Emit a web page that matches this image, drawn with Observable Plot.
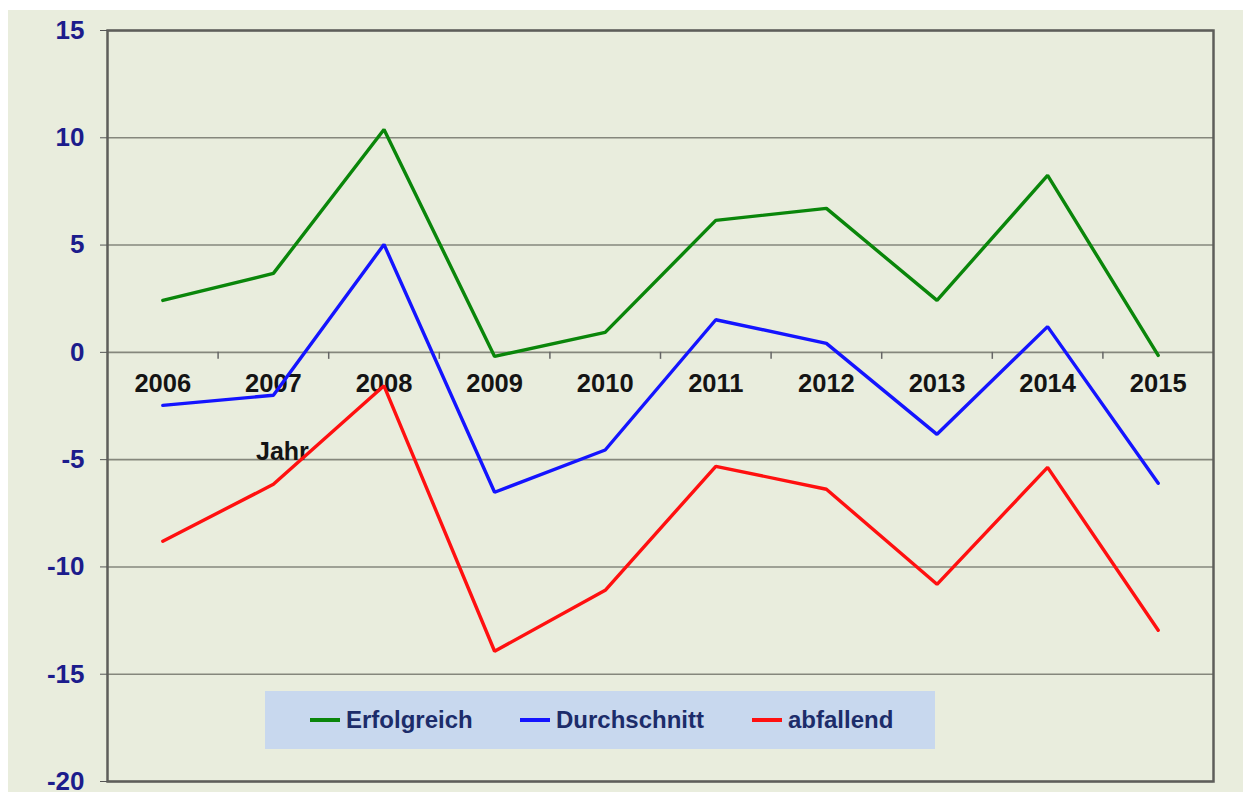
<!DOCTYPE html>
<html>
<head>
<meta charset="utf-8">
<script src="https://cdn.jsdelivr.net/npm/d3@7"></script>
<script src="https://cdn.jsdelivr.net/npm/@observablehq/plot@0.6"></script>
<style>
  html, body { margin: 0; padding: 0; background: #ffffff; }
  #wrap { position: absolute; left: 8px; top: 10px; width: 1235px; height: 782px; background: #e9eddd; overflow: hidden; }
  #chart svg { display: block; background: transparent; }
  .chart g[aria-label="y-axis tick label"] { fill: #1c1c8c; }
  .chart g[aria-label="y-axis tick"] { stroke: #555; }
  #legend { position: absolute; left: 257px; top: 681px; width: 670px; height: 58px; background: #c8d8ee;
            font-family: "Liberation Sans", Arial, sans-serif; font-weight: bold; font-size: 24px; color: #1c2c6a; }
  .item { position: absolute; top: 0; height: 58px; display: flex; align-items: center; }
  .sw { display: inline-block; width: 30px; height: 3.5px; margin-right: 6px; }
</style>
</head>
<body>
<div id="wrap">
  <div id="chart"></div>
  <div id="legend"></div>
</div>
<script>
const years = [2006, 2007, 2008, 2009, 2010, 2011, 2012, 2013, 2014, 2015];
const erfolgreich  = [2.42, 3.68, 10.39, -0.19, 0.93, 6.15, 6.71, 2.42, 8.25, -0.14];
const durchschnitt = [-2.47, -2.0, 5.03, -6.52, -4.55, 1.52, 0.42, -3.82, 1.2, -6.1];
const abfallend    = [-8.8, -6.15, -1.56, -13.93, -11.09, -5.31, -6.38, -10.81, -5.36, -12.95];
const seriesNames  = ["Erfolgreich", "Durchschnitt", "abfallend"];
const seriesColors = ["#0a860a", "#1414ff", "#ff1010"];
const yTicks = [-20, -15, -10, -5, 0, 5, 10, 15];
const xAxisTitle = "Jahr";

const seriesValues = [erfolgreich, durchschnitt, abfallend];
const data = seriesNames.flatMap((s, si) => years.map((yr, i) => ({series: s, year: yr, value: seriesValues[si][i]})));
const boundaries = years.slice(0, -1).map(y => y + 0.5);

const W = 1235, H = 782, mT = 20, mB = 11, mL = 99, mR = 30;
const unitPx = (H - mT - mB) / (yTicks[yTicks.length - 1] - yTicks[0]);
const tickLen = 7 / unitPx;

const chart = Plot.plot({
  width: W, height: H,
  marginTop: mT, marginBottom: mB, marginLeft: mL, marginRight: mR,
  className: "chart",
  style: {fontFamily: "'Liberation Sans', Arial, sans-serif", background: "transparent"},
  x: {domain: [years[0] - 0.5, years[years.length - 1] + 0.5], axis: null},
  y: {domain: [yTicks[0], yTicks[yTicks.length - 1]], axis: null},
  color: {domain: seriesNames, range: seriesColors},
  marks: [
    Plot.ruleY(yTicks, {stroke: "#85877c", strokeWidth: 1.6}),
    Plot.frame({stroke: "#5e5e5a", strokeWidth: 2.5}),
    Plot.axisY({ticks: yTicks, label: null, tickSize: 7, tickPadding: 16, fontSize: 26, fontWeight: "bold", tickFormat: d => String(d)}),
    Plot.ruleX(boundaries, {y1: 0, y2: -tickLen, stroke: "#666", strokeWidth: 1.5}),
    Plot.text(years, {x: d => d, y: 0, dy: 31, text: d => String(d), fontSize: 25.5, fontWeight: "bold", fill: "#141414"}),
    Plot.text([xAxisTitle], {x: years[1], y: 0, dx: 9, dy: 100, text: d => d, fontSize: 25, fontWeight: "bold", fill: "#141414"}),
    Plot.line(data, {x: "year", y: "value", z: "series", stroke: "series", strokeWidth: 3.4, strokeLinejoin: "miter"})
  ]
});
document.getElementById("chart").appendChild(chart);

const legend = document.getElementById("legend");
const lefts = [45, 255, 487];
seriesNames.forEach((s, i) => {
  const it = document.createElement("div");
  it.className = "item";
  it.style.left = lefts[i] + "px";
  it.innerHTML = `<span class="sw" style="background:${seriesColors[i]}"></span><span>${s}</span>`;
  legend.appendChild(it);
});
</script>
</body>
</html>
